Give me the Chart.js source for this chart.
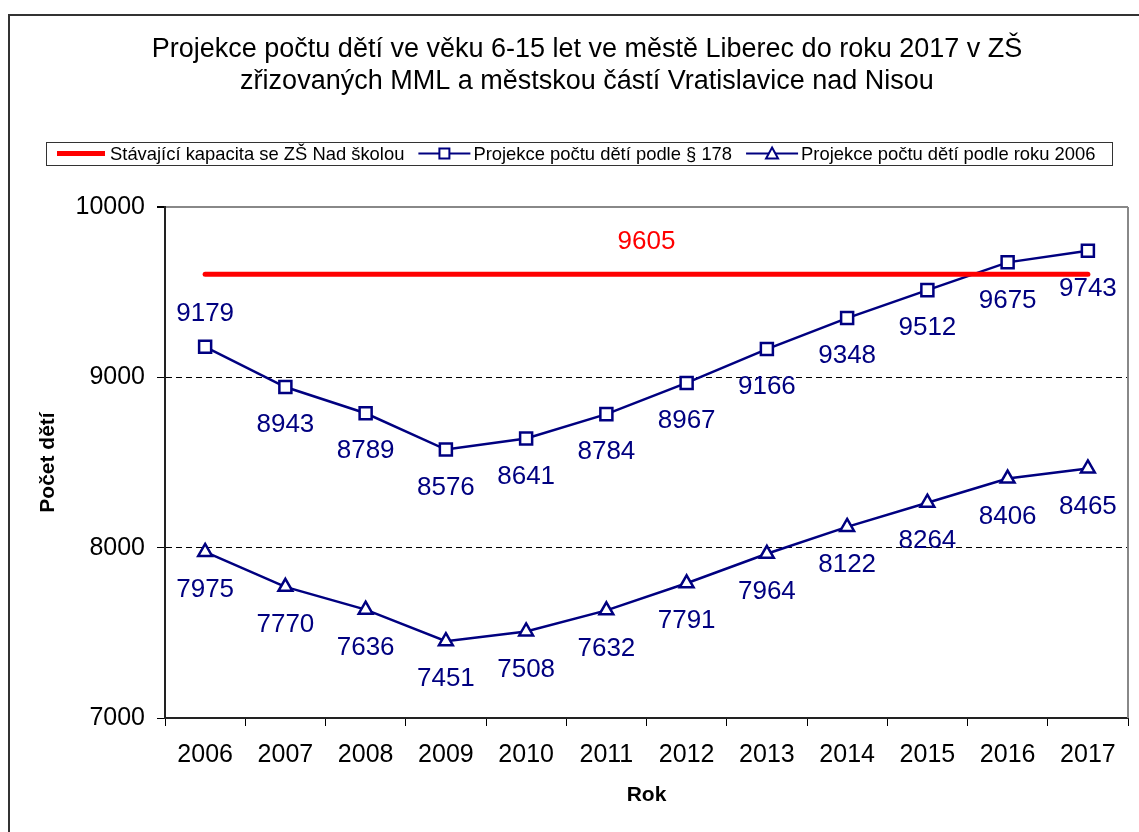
<!DOCTYPE html>
<html>
<head>
<meta charset="utf-8">
<script src="https://cdn.jsdelivr.net/npm/chart.js@4/dist/chart.umd.min.js"></script>
<style>
  html, body { margin: 0; padding: 0; background: #fff; }
  canvas { display: block; }
</style>
</head>
<body>
<canvas id="chart" width="1139" height="832"></canvas>
<script>
// data
const years = ['2006', '2007', '2008', '2009', '2010', '2011', '2012', '2013', '2014', '2015', '2016', '2017'];
const capacity = [9605, 9605, 9605, 9605, 9605, 9605, 9605, 9605, 9605, 9605, 9605, 9605];
const proj178 = [9179, 8943, 8789, 8576, 8641, 8784, 8967, 9166, 9348, 9512, 9675, 9743];
const proj2006 = [7975, 7770, 7636, 7451, 7508, 7632, 7791, 7964, 8122, 8264, 8406, 8465];
const yTicks = [7000, 8000, 9000, 10000];

const titleLines = [
  'Projekce počtu dětí ve věku 6-15 let ve městě Liberec do roku 2017 v ZŠ',
  'zřizovaných MML a městskou částí Vratislavice nad Nisou'
];
const legendLabels = [
  'Stávající kapacita se ZŠ Nad školou',
  'Projekce počtu dětí podle § 178',
  'Projekce počtu dětí podle roku 2006'
];

const FONT = 'Arial, "Liberation Sans", sans-serif';
const NAVY = '#000080';
const RED = '#ff0000';

// frame, title, legend, axis titles and value labels
const decorations = {
  id: 'decorations',
  beforeDraw(chart) {
    const c = chart.ctx;
    c.save();
    c.fillStyle = '#fff';
    c.fillRect(0, 0, chart.width, chart.height);
    // outer frame (continues beyond the picture)
    c.strokeStyle = '#333';
    c.lineWidth = 2;
    c.beginPath();
    c.moveTo(9, chart.height);
    c.lineTo(9, 15);
    c.lineTo(chart.width, 15);
    c.stroke();
    c.restore();
  },
  afterDraw(chart) {
    const c = chart.ctx;
    const area = chart.chartArea;
    c.save();

    // right border of plot area
    c.strokeStyle = '#888';
    c.lineWidth = 2;
    c.beginPath();
    c.moveTo(area.right, area.top);
    c.lineTo(area.right, area.bottom);
    c.stroke();

    // title
    c.fillStyle = '#000';
    c.font = '27px ' + FONT;
    c.textAlign = 'center';
    c.textBaseline = 'middle';
    c.fillText(titleLines[0], 587, 50);
    c.fillText(titleLines[1], 587, 82);

    // legend
    const lx0 = 46, lx1 = 1112, ly0 = 142, ly1 = 165, ly = 153.5;
    c.strokeStyle = '#333';
    c.lineWidth = 1;
    c.strokeRect(lx0 + 0.5, ly0 + 0.5, lx1 - lx0, ly1 - ly0);
    c.font = '18.4px ' + FONT;
    c.textAlign = 'left';
    const sample = 52, gapAfterSample = 3, gapAfterText = 14;
    let x = lx0 + 9;
    legendLabels.forEach((label, i) => {
      if (i === 0) {
        c.strokeStyle = RED;
        c.lineWidth = 5;
        c.beginPath();
        c.moveTo(x + 2, ly);
        c.lineTo(x + sample - 2, ly);
        c.stroke();
      } else {
        c.strokeStyle = NAVY;
        c.lineWidth = 2;
        c.beginPath();
        c.moveTo(x, ly);
        c.lineTo(x + sample, ly);
        c.stroke();
        const mx = x + sample / 2;
        c.fillStyle = '#fff';
        c.beginPath();
        if (i === 1) {
          c.rect(mx - 5, ly - 5, 10, 10);
        } else {
          c.moveTo(mx, ly - 6);
          c.lineTo(mx + 6, ly + 5);
          c.lineTo(mx - 6, ly + 5);
          c.closePath();
        }
        c.fill();
        c.stroke();
      }
      x += sample + gapAfterSample;
      c.fillStyle = '#000';
      c.fillText(label, x, ly + 1);
      x += c.measureText(label).width + gapAfterText;
    });

    // axis titles
    c.font = 'bold 21px ' + FONT;
    c.textAlign = 'center';
    c.fillText('Rok', (area.left + area.right) / 2, 795);
    c.save();
    c.translate(48, (area.top + area.bottom) / 2);
    c.rotate(-Math.PI / 2);
    c.fillText('Počet dětí', 0, 0);
    c.restore();

    // value labels
    c.font = '26px ' + FONT;
    c.textAlign = 'center';
    c.textBaseline = 'middle';
    const capMeta = chart.getDatasetMeta(0);
    const mid = (capMeta.data[5].x + capMeta.data[6].x) / 2;
    c.fillStyle = RED;
    c.fillText(String(capacity[0]), mid, capMeta.data[0].y - 32);

    c.fillStyle = NAVY;
    [1, 2].forEach(di => {
      const meta = chart.getDatasetMeta(di);
      const values = chart.data.datasets[di].data;
      meta.data.forEach((pt, j) => {
        const above = di === 1 && j === 0;
        c.fillText(String(values[j]), pt.x, pt.y + (above ? -33 : 38));
      });
    });
    c.restore();
  }
};

new Chart(document.getElementById('chart'), {
  type: 'line',
  data: {
    labels: years,
    datasets: [
      {
        label: legendLabels[0],
        data: capacity,
        borderColor: RED,
        borderWidth: 5,
        borderCapStyle: 'round',
        pointRadius: 0
      },
      {
        label: legendLabels[1],
        data: proj178,
        borderColor: NAVY,
        borderWidth: 2.5,
        pointStyle: 'rect',
        pointRadius: 8.5,
        pointBorderWidth: 2.5,
        pointBackgroundColor: '#fff',
        pointBorderColor: NAVY
      },
      {
        label: legendLabels[2],
        data: proj2006,
        borderColor: NAVY,
        borderWidth: 2.5,
        pointStyle: 'triangle',
        pointRadius: 8,
        pointBorderWidth: 2.5,
        pointBackgroundColor: '#fff',
        pointBorderColor: NAVY
      }
    ]
  },
  options: {
    responsive: false,
    animation: false,
    layout: { padding: { top: 207, right: 7, left: 0, bottom: 0 } },
    plugins: {
      legend: { display: false },
      title: { display: false },
      tooltip: { enabled: false }
    },
    scales: {
      x: {
        offset: true,
        afterFit(scale) { scale.height = 114; },
        grid: {
          offset: true,
          drawOnChartArea: false,
          drawTicks: true,
          tickLength: 8,
          tickColor: '#000'
        },
        border: { color: '#222', width: 2 },
        ticks: {
          color: '#000',
          padding: 14,
          maxRotation: 0,
          font: { size: 25, family: FONT }
        }
      },
      y: {
        min: 7000,
        max: 10000,
        afterFit(scale) { scale.width = 165; },
        afterBuildTicks(scale) { scale.ticks = yTicks.map(v => ({ value: v })); },
        grid: {
          color: ctx => {
            const v = ctx.tick && ctx.tick.value;
            if (v === 10000) return '#888';
            if (v === 7000) return 'rgba(0,0,0,0)';
            return '#000';
          },
          lineWidth: ctx => (ctx.tick && ctx.tick.value === 10000 ? 2 : 1),
          tickLength: 8,
          tickColor: '#000'
        },
        border: {
          color: '#222',
          width: 2,
          dash: ctx => {
            const v = ctx.tick && ctx.tick.value;
            return (v > 7000 && v < 10000) ? [6, 4] : [];
          }
        },
        ticks: {
          color: '#000',
          padding: 12,
          callback: v => String(v),
          font: { size: 25, family: FONT }
        }
      }
    }
  },
  plugins: [decorations]
});
</script>
</body>
</html>
